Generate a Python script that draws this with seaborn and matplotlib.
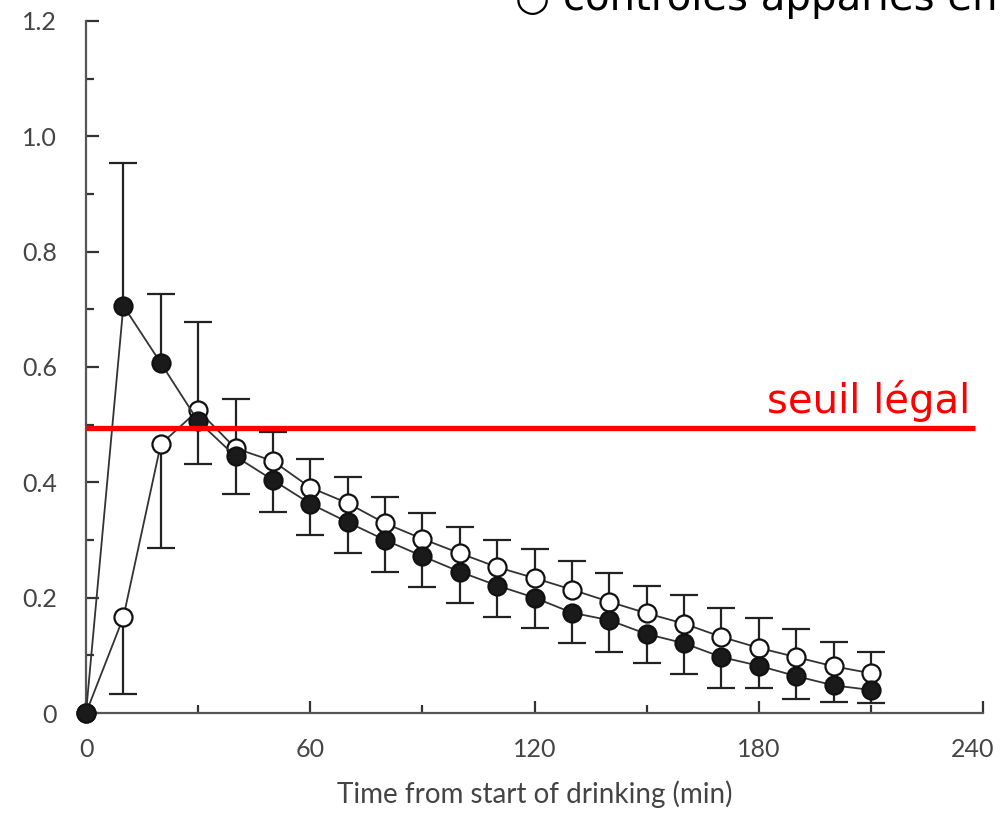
import numpy as np
import pandas as pd
import matplotlib
matplotlib.use("Agg")
import matplotlib.pyplot as plt
import matplotlib.transforms as mtransforms
import seaborn as sns
from matplotlib.ticker import MultipleLocator, FixedLocator

# Values (blood alcohol, g/L)
time_min = [0, 10, 20, 30, 40, 50, 60, 70, 80, 90, 100, 110,
            120, 130, 140, 150, 160, 170, 180, 190, 200, 210]
open_mean = [0, 0.166, 0.466, 0.525, 0.459, 0.437, 0.391, 0.364, 0.329, 0.302, 0.277,
             0.253, 0.234, 0.214, 0.193, 0.173, 0.155, 0.132, 0.113, 0.097, 0.081, 0.069]
filled_mean = [0, 0.706, 0.607, 0.506, 0.445, 0.404, 0.363, 0.331, 0.300, 0.272, 0.245,
               0.221, 0.200, 0.174, 0.161, 0.137, 0.121, 0.097, 0.082, 0.064, 0.048, 0.040]
# end of the one-sided error bar of each point
open_bar_end = [np.nan, 0.033, 0.286, 0.678, 0.544, 0.488, 0.441, 0.409, 0.375, 0.346, 0.323,
                0.300, 0.284, 0.263, 0.243, 0.220, 0.204, 0.182, 0.165, 0.145, 0.123, 0.106]
filled_bar_end = [np.nan, 0.954, 0.727, 0.432, 0.380, 0.348, 0.309, 0.277, 0.245, 0.219, 0.191,
                  0.166, 0.147, 0.122, 0.106, 0.087, 0.068, 0.043, 0.043, 0.025, 0.019, 0.017]
legal_limit = 0.495
limit_label = "seuil légal"
top_text = "○ contrôles appariés en"
x_label = "Time from start of drinking (min)"
x_ticks = [0, 60, 120, 180, 240]
y_ticks = [0, 0.2, 0.4, 0.6, 0.8, 1.0, 1.2]
y_tick_labels = ["0", "0.2", "0.4", "0.6", "0.8", "1.0", "1.2"]

df = pd.DataFrame({"time": time_min, "open": open_mean, "filled": filled_mean,
                   "open_end": open_bar_end, "filled_end": filled_bar_end})

sns.set_style("ticks")
plt.rcParams["font.family"] = ["Lato", "DejaVu Sans"]

fig = plt.figure(figsize=(10, 8.19), dpi=100)
ax = fig.add_axes([0.086, 0.1294, 0.897, 0.845])

line_col = "#333333"
bar_col = "#222222"

# one-sided error bars: stem from the mean to the bar end, cap only at the end
for mean_col, end_col in [("open", "open_end"), ("filled", "filled_end")]:
    sub = df.dropna(subset=[end_col])
    ax.vlines(sub["time"], sub[mean_col], sub[end_col], color=bar_col, linewidth=1.6, zorder=2)
    ax.plot(sub["time"], sub[end_col], linestyle="none", marker="_", markersize=20,
            markeredgewidth=1.6, color=bar_col, zorder=2)

sns.lineplot(data=df, x="time", y="open", ax=ax, color=line_col, linewidth=1.3,
             marker="o", markersize=13, markerfacecolor="white", markeredgecolor="#111111",
             markeredgewidth=1.6, clip_on=False, zorder=3)
sns.lineplot(data=df, x="time", y="filled", ax=ax, color=line_col, linewidth=1.3,
             marker="o", markersize=13, markerfacecolor="#1a1a1a", markeredgecolor="#111111",
             markeredgewidth=1.6, clip_on=False, zorder=4)

# legal threshold
ax.plot([0, 237.9], [legal_limit, legal_limit], color="#ff0000", linewidth=3.8,
        clip_on=False, zorder=5, solid_capstyle="butt")
ax.text(236.5, legal_limit + 0.025, limit_label, color="#ff0000", fontsize=29,
        family=["DejaVu Sans"], ha="right", va="baseline")

ax.set_xlim(0, 240)
ax.set_ylim(0, 1.2)
ax.xaxis.set_major_locator(FixedLocator(x_ticks))
ax.xaxis.set_minor_locator(MultipleLocator(30))
ax.yaxis.set_major_locator(FixedLocator(y_ticks))
ax.yaxis.set_minor_locator(MultipleLocator(0.1))
ax.set_yticklabels(y_tick_labels)
ax.set_xticklabels([str(t) for t in x_ticks])

ax.tick_params(which="major", direction="in", length=9, width=1.6, color="#333333",
               labelsize=18, labelcolor="#444444")
ax.tick_params(which="minor", direction="in", length=6, width=1.6, color="#333333")
ax.tick_params(axis="x", which="major", pad=18)
ax.tick_params(axis="y", which="major", pad=21)

# last x label sits a bit left so it stays inside the picture
last = ax.get_xticklabels()[-1]
last.set_transform(last.get_transform() + mtransforms.ScaledTranslation(-10 / 100, 0, fig.dpi_scale_trans))

for side in ["top", "right"]:
    ax.spines[side].set_visible(False)
for side in ["left", "bottom"]:
    ax.spines[side].set_color("#555555")
    ax.spines[side].set_linewidth(1.6)

ax.set_xlabel(x_label, fontsize=20, color="#444444", labelpad=14)
ax.set_ylabel("")

fig.text(0.515, 0.988, top_text, fontsize=29, family=["DejaVu Sans"],
         color="black", ha="left", va="baseline")

fig.savefig("out.png", dpi=100)
